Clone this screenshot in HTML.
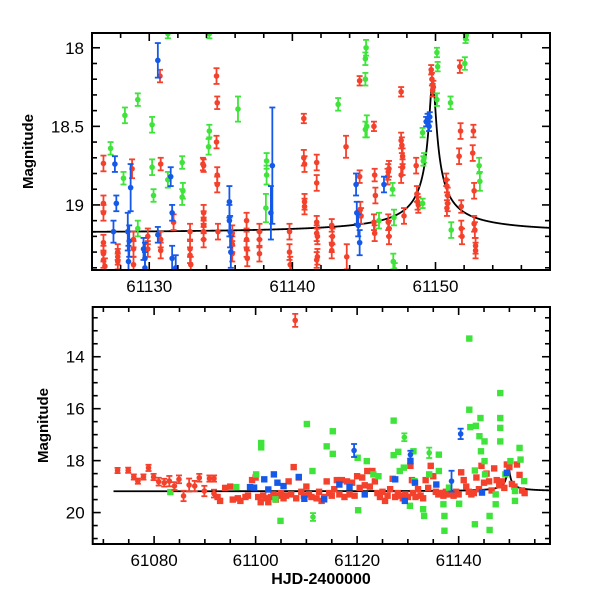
<!DOCTYPE html>
<html><head><meta charset="utf-8"><style>
html,body{margin:0;padding:0;background:#fff;}
svg{display:block;font-family:"Liberation Sans",sans-serif;}
</style></head><body>
<svg id="chart" width="600" height="600" viewBox="0 0 600 600"></svg>
<script>
// ---- TOP PANEL DATA: [HJD, magnitude, error] ----
const topRed = [[61126.8,18.736,.05],[61126.8,18.99,.05],[61126.8,19.05,.05],[61126.8,19.24,.05],[61126.8,19.31,.05],[61126.8,19.35,.05],[61126.9,19.39,.05],
[61127.8,19.30,.05],[61127.8,19.33,.05],[61127.8,19.36,.05],[61128.8,18.77,.06],[61128.9,19.22,.05],[61128.9,19.28,.05],[61128.9,19.38,.05],
[61129.9,19.20,.05],[61129.9,19.28,.05],[61130.75,18.18,.04],[61130.8,18.74,.04],[61130.8,19.22,.05],[61130.8,19.29,.05],[61131.7,19.11,.05],
[61132.85,19.17,.05],[61132.85,19.28,.05],[61132.85,19.32,.05],[61132.9,19.38,.05],[61133.75,18.74,.04],[61133.8,18.75,.04],
[61133.8,19.05,.05],[61133.8,19.09,.05],[61133.8,19.13,.05],[61133.8,19.17,.05],[61133.8,19.22,.05],[61134.7,18.18,.05],[61134.75,18.35,.04],
[61134.7,18.60,.04],[61134.75,18.81,.05],[61134.75,18.87,.05],[61134.8,19.17,.05],[61135.8,19.18,.05],[61135.8,19.25,.05],[61135.8,19.31,.05],
[61136.8,19.10,.05],[61136.8,19.22,.05],[61136.8,19.28,.05],[61136.85,19.34,.05],[61137.7,19.17,.05],[61137.7,19.22,.05],[61137.7,19.31,.05],
[61139.8,19.17,.05],[61139.8,19.30,.05],[61139.85,19.38,.05],[61140.8,18.45,.03],[61140.8,18.70,.05],[61140.85,18.74,.05],[61140.85,18.98,.05],
[61140.85,19.01,.05],[61141.7,18.73,.05],[61141.7,18.86,.05],[61141.7,19.18,.05],[61141.7,19.35,.05],[61141.7,19.11,.04],[61141.75,19.20,.05],
[61141.75,19.33,.05],[61142.75,19.13,.04],[61142.8,19.20,.05],[61142.75,19.25,.05],[61142.75,19.29,.05],[61143.75,18.63,.07],[61143.8,19.33,.08],
[61144.7,18.21,.03],[61144.7,18.82,.04],[61144.75,19.03,.05],[61144.8,19.07,.05],[61145.7,18.50,.03],[61145.75,18.81,.04],[61145.8,18.94,.05],
[61145.7,19.11,.05],[61145.75,19.18,.05],[61146.7,18.79,.05],[61146.75,18.77,.05],[61146.65,18.82,.05],[61146.7,19.11,.05],[61146.75,19.15,.05],
[61146.75,19.20,.05],[61147.6,18.28,.03],[61147.6,18.59,.05],[61147.65,18.62,.05],[61147.7,18.69,.05],[61147.7,18.76,.05],[61147.6,18.81,.05],
[61147.8,19.07,.05],[61148.65,18.75,.05],[61148.7,18.93,.05],[61148.75,18.98,.05],[61148.8,19.00,.05],[61149.7,18.14,.03],[61149.75,18.20,.04],
[61149.8,18.27,.04],[61149.85,18.25,.04],[61150.75,18.84,.04],[61150.8,18.88,.04],[61150.85,18.94,.05],[61150.85,18.99,.05],[61150.8,19.02,.05],
[61151.7,18.12,.04],[61151.75,18.53,.05],[61151.65,18.69,.05],[61151.8,19.01,.04],[61151.8,19.15,.05],[61151.85,19.20,.05],[61152.65,18.53,.04],
[61152.6,18.67,.05],[61152.7,18.91,.05],[61152.7,19.12,.05],[61152.75,19.16,.05],[61152.8,19.26,.05],[61152.8,19.29,.05]];
const topGreen = [[61127.3,18.64,.04],[61128.3,18.43,.05],[61129.2,18.33,.04],[61128.2,18.83,.04],[61129.2,19.15,.05],[61130.2,18.49,.05],
[61130.2,18.76,.05],[61130.3,18.94,.04],[61131.3,17.91,.03],[61131.3,18.84,.05],[61132.3,18.73,.04],[61132.3,18.95,.05],[61132.35,18.91,.05],
[61134.2,17.91,.03],[61134.15,18.63,.05],[61134.2,18.53,.04],[61136.2,18.39,.08],[61138.2,18.72,.05],[61138.2,18.81,.06],[61138.15,19.02,.09],
[61143.2,18.36,.04],[61145.1,18.07,.04],[61145.15,18.00,.05],[61145.1,18.20,.04],[61145.1,18.52,.05],[61145.2,18.50,.07],[61146.05,19.10,.05],
[61147.0,18.90,.04],[61147.1,19.08,.05],[61147.05,19.36,.05],[61147.15,19.41,.04],[61149.1,18.54,.03],[61149.2,18.70,.03],[61149.15,18.72,.03],
[61149.1,18.99,.03],[61150.1,18.03,.03],[61150.15,18.12,.03],[61150.1,18.33,.04],[61151.05,18.35,.04],[61151.1,19.16,.05],[61152.1,17.94,.03],
[61152.15,17.92,.03],[61152.05,18.10,.04],[61153.05,18.75,.05],[61153.1,18.85,.06]];
const topBlue = [[61130.6,18.08,.11],[61127.6,18.74,.05],[61127.7,18.99,.05],[61127.5,19.17,.07],[61128.7,18.89,.15],[61128.5,19.17,.12],
[61128.6,19.23,.10],[61128.55,19.36,.10],[61129.6,19.28,.07],[61129.7,19.34,.10],[61129.7,19.40,.10],[61130.6,19.19,.05],[61131.5,18.82,.06],
[61131.6,19.05,.05],[61131.6,19.34,.08],[61131.85,19.40,.08],[61135.6,18.98,.10],[61135.6,19.10,.10],[61135.65,19.17,.10],[61135.7,19.30,.10],
[61138.6,18.75,.37],[61138.5,19.05,.17],[61144.45,18.87,.07],[61144.5,19.05,.07],[61144.6,19.13,.07],[61144.7,19.24,.08],[61146.4,18.87,.05],
[61149.35,18.47,.03],[61149.45,18.45,.03],[61149.55,18.50,.03],[61149.6,18.44,.03]];
// ---- BOTTOM PANEL DATA ----
const botRedErr = [[61072.8,18.38,.1],[61074.9,18.37,.1],[61076.0,18.63,.1],[61076.8,18.79,.1],[61077.9,18.63,.1],[61078.9,18.28,.12],[61079.9,18.63,.12],
[61080.9,18.81,.15],[61082.0,18.85,.15],[61083.0,18.79,.2],[61084.0,18.98,.15],[61084.9,18.72,.15],[61085.8,19.36,.2],[61086.9,18.94,.25],
[61088.0,18.98,.2],[61088.9,18.66,.15],[61089.9,19.17,.2],[61090.9,18.69,.12],[61091.8,18.69,.12],[61091.8,19.27,.15],[61107.8,12.60,.25]];
const botRed = [[61092.5,19.40],[61093,19.55],[61094,19.05],[61095,19.00],[61095.5,19.50],[61096.5,19.45],[61097,19.55],[61098,19.40],[61098.5,19.35],
[61099.3,18.75],[61100,18.65],[61100.5,19.40],[61101,19.60],[61101.5,19.35],[61102,19.45],[61102.5,19.60],[61103,19.40],[61103.5,19.30],[61104,19.50],
[61104.5,19.35],[61105,19.25],[61105.5,19.45],[61106,19.35],[61106.5,18.80],[61107,19.30],[61107.5,18.25],[61108,19.45],[61108.5,18.65],[61109,19.20],
[61109.5,19.35],[61110,19.00],[61110.5,19.30],[61111,19.40],[61112,19.45],[61112.5,19.20],[61113,19.55],[61113.5,19.40],[61114,18.80],[61114.5,19.25],
[61115,19.35],[61115.5,19.10],[61116,18.75],[61116.5,19.30],[61117,18.75],[61117.5,19.40],[61118,18.80],[61118.5,19.30],[61119,18.85],[61119.5,19.35],
[61120,18.60],[61120.5,19.05],[61121,18.65],[61121.5,18.95],[61122,18.40],[61122.5,19.00],[61123,18.40],[61123.5,18.80],[61124,19.25],[61124.5,19.40],
[61125,19.20],[61125.5,19.55],[61126,19.35],[61126.5,19.10],[61127,18.70],[61127.5,19.40],[61128,19.25],[61128.5,19.35],[61129,19.45],[61129.5,19.30],
[61130,19.40],[61130.5,18.20],[61130.8,18.75],[61131,19.25],[61131.5,19.40],[61132,19.10],[61132.5,19.35],[61133,19.45],[61133.5,18.75],[61134,19.05],
[61134.5,18.20],[61135,18.60],[61135.5,19.20],[61136,19.30],[61136.5,19.25],[61137,19.35],[61137.5,19.20],[61138,19.30],[61139,19.35],[61139.5,19.20],
[61140,19.30],[61140.5,18.45],[61141,18.75],[61141.5,19.00],[61142,19.20],[61142.5,19.30],[61143,19.25],[61143.5,18.65],[61144,19.10],[61144.5,18.20],
[61145,18.85],[61145.5,18.50],[61146,18.80],[61146.5,19.15],[61147,18.30],[61147.5,18.75],[61148,18.95],[61148.5,18.80],[61149,19.05],[61149.5,18.15],
[61150,18.25],[61150.5,18.90],[61151,19.00],[61151.5,18.15],[61152,18.55],[61152.5,19.15],[61153,19.25]];
const botBlueErr = [[61119.4,17.61,.25],[61130.5,17.77,.15],[61138.6,18.79,.4],[61140.4,16.97,.2]];
const botBlue = [[61098.9,19.02],[61099.7,19.04],[61101.7,18.72],[61102.5,19.11],[61103.6,18.53],[61104.3,18.85],[61105.5,18.98],[61108.5,18.63],
[61109.6,19.47],[61113.5,19.49],[61116.5,18.92],[61118.5,19.02],[61121.5,19.30],[61127.5,18.72],[61129.4,19.55],[61130.5,18.02],[61131.4,18.85],
[61135.6,18.92],[61144.6,19.23],[61149.5,18.47]];
const botGreenErr = [[61111.3,20.17,.15],[61134.2,17.70,.2],[61129.3,17.10,.15]];
const botGreen = [[61083.2,19.21],[61096.2,19.02],[61100.1,18.53],[61101.1,17.32],[61101.1,17.49],[61103.9,19.49],[61104.9,20.32],[61110.1,16.59],
[61111.2,18.40],[61114,17.45],[61115.2,16.87],[61115.2,17.74],[61120.1,17.89],[61120.2,19.91],[61121.9,18.02],[61123.2,18.53],[61124.2,18.60],
[61127.2,16.46],[61127.2,17.79],[61128.1,17.66],[61128.4,18.40],[61129.2,18.27],[61130.4,19.74],[61131.1,17.64],[61131.3,18.79],[61133,19.87],
[61133.2,20.13],[61134.2,18.53],[61136.1,17.77],[61136.1,18.40],[61137,19.68],[61137.2,20.13],[61137.2,20.70],[61138.1,19.04],[61140.1,19.66],
[61142.1,13.30],[61142.1,16.04],[61142.3,16.71],[61143.2,18.38],[61143.2,20.45],[61143.4,16.66],[61144.1,17.06],[61144.3,16.36],[61144.4,17.64],
[61145.1,17.26],[61145.1,18.02],[61145.2,18.53],[61146.1,20.13],[61146.1,20.67],[61147.3,19.30],[61147.3,19.68],[61148.2,15.40],[61148.2,16.36],
[61148.2,16.74],[61148.2,17.26],[61149.2,18.53],[61150.2,18.02],[61151.1,19.17],[61151.1,19.55],[61152,17.51],[61152.2,17.96],[61152.9,18.79]];
const modelParams = [61149.8, 60, 0.0034, 0.005, 19.18]; // t0, tE, u0, fs, base
const topXTicks = [61130, 61140, 61150];
const topYTicks = [18, 18.5, 19];
const botXTicks = [61080, 61100, 61120, 61140];
const botYTicks = [14, 16, 18, 20];

const RED="#f4412c", GREEN="#3ee43a", BLUE="#1559e8";
const NS="http://www.w3.org/2000/svg";
const svgEl=document.getElementById('chart');
function mk(tag,attrs,parent){const e=document.createElementNS(NS,tag);for(const k in attrs)e.setAttribute(k,attrs[k]);(parent||svgEl).appendChild(e);return e;}
function model(t){const [t0,tE,u0,fs,base]=modelParams;const tau=(t-t0)/tE;const u=Math.sqrt(u0*u0+tau*tau);
 const A=(u*u+2)/(u*Math.sqrt(u*u+4));return base-2.5*Math.log10(1+fs*(A-1));}

function panel(name,L,R,T,B,x0,x1,y0,y1,xTicks,xMinor,xMajorStep,yTicks,yMinor,titleX,tStart){
 const g=mk('g',{});
 
 
 const sx=t=>L+(t-x0)/(x1-x0)*(R-L), sy=m=>T+(m-y0)/(y1-y0)*(B-T);
 const clipId=name+'-clip';
 const cp=mk('clipPath',{id:clipId},g);mk('rect',{x:L,y:T,width:R-L,height:B-T},cp);
 const plot=mk('g',{'clip-path':'url(#'+clipId+')'},g);
 
 
 return {g,plot,sx,sy,L,R,T,B,x0,x1,y0,y1,xTicks,xMinor,xMajorStep,yTicks,yMinor,titleX,tStart,name};
}
function drawAxes(p){
 const {g,sx,sy,L,R,T,B}=p;
 const ax=mk('g',{stroke:'#000','stroke-width':1.6,fill:'none'},g);
 
 
 for(let t=Math.ceil(p.x0/p.xMinor)*p.xMinor;t<=p.x1+1e-9;t+=p.xMinor){
  const q=t/p.xMajorStep;const major=Math.abs(q-Math.round(q))<1e-6;
  const len=major?8:5;const x=sx(t);
  mk('line',{x1:x,y1:B,x2:x,y2:B-len},ax);mk('line',{x1:x,y1:T,x2:x,y2:T+len},ax);
 }
 for(let k=Math.ceil(p.y0/p.yMinor-1e-9);k*p.yMinor<=p.y1+1e-9;k++){
  const m=k*p.yMinor;
  const major=p.yTicks.some(v=>Math.abs(v-m)<1e-6);const len=major?8:5;const y=sy(m);
  mk('line',{x1:L,y1:y,x2:L+len,y2:y},ax);mk('line',{x1:R,y1:y,x2:R-len,y2:y},ax);
 }
 const fr=mk('rect',{x:L,y:T,width:R-L,height:B-T,stroke:'#000','stroke-width':2,fill:'none'},g);
 
 
 p.xTicks.forEach(t=>{const e=mk('text',{x:sx(t),y:B+22,'font-size':17,'text-anchor':'middle'},g);e.textContent=String(t);
  
  });
 p.yTicks.forEach(m=>{const e=mk('text',{x:L-8,y:sy(m)+6,'font-size':17,'text-anchor':'end'},g);e.textContent=String(m);
  
  });
 const yt=mk('text',{x:0,y:0,'font-size':15,'font-weight':'bold','text-anchor':'middle',transform:'translate('+p.titleX+','+((T+B)/2)+') rotate(-90)'},g);
 yt.textContent='Magnitude';
 
 
}
function drawModel(p){
 let d='';for(let t=p.tStart;t<=p.x1;t+=0.02){d+=(d?'L':'M')+p.sx(t).toFixed(2)+','+p.sy(model(t)).toFixed(2);}
 const e=mk('path',{d:d,stroke:'#000','stroke-width':1.8,fill:'none'},p.plot);
 
 
}
function drawErr(p,arr,color,series,r){
 const gg=mk('g',{stroke:color,fill:color,'stroke-width':1.8},p.plot);
 
 
 arr.forEach(d=>{const x=p.sx(d[0]),y=p.sy(d[1]),y1=p.sy(d[1]-d[2]),y2=p.sy(d[1]+d[2]);
  const pt=mk('g',{},gg);
  
  
  mk('line',{x1:x,y1:y1,x2:x,y2:y2},pt);mk('line',{x1:x-3,y1:y1,x2:x+3,y2:y1},pt);mk('line',{x1:x-3,y1:y2,x2:x+3,y2:y2},pt);
  mk('circle',{cx:x,cy:y,r:r,stroke:'none'},pt);});
}
function drawSq(p,arr,color,series){
 const gg=mk('g',{fill:color},p.plot);
 
 
 arr.forEach(d=>{const x=p.sx(d[0]),y=p.sy(d[1]);
  const e=mk('rect',{x:x-3.2,y:y-3.2,width:6.4,height:6.4},gg);
  
  });
}
const topP=panel('top-panel',92,550,33,270,61126,61158,17.906,19.414,topXTicks,2,10,topYTicks,0.1,33,61126);
drawModel(topP);
drawErr(topP,topRed,RED,'red',2.8);
drawErr(topP,topGreen,GREEN,'green',2.8);
drawErr(topP,topBlue,BLUE,'blue',2.8);
drawAxes(topP);
const botP=panel('bottom-panel',92.7,550,307,544,61067.9,61158,12.085,21.21,botXTicks,5,20,botYTicks,0.5,48,61072);
drawModel(botP);
drawSq(botP,botRed,RED,'red');
drawSq(botP,botGreen,GREEN,'green');
drawSq(botP,botBlue,BLUE,'blue');
drawErr(botP,botRedErr,RED,'red-err',2.8);
drawErr(botP,botGreenErr,GREEN,'green-err',2.8);
drawErr(botP,botBlueErr,BLUE,'blue-err',2.8);
drawAxes(botP);
const xt=mk('text',{x:321,y:584,'font-size':16,'font-weight':'bold','text-anchor':'middle'});
xt.textContent='HJD-2400000';


</script>
</body></html>
